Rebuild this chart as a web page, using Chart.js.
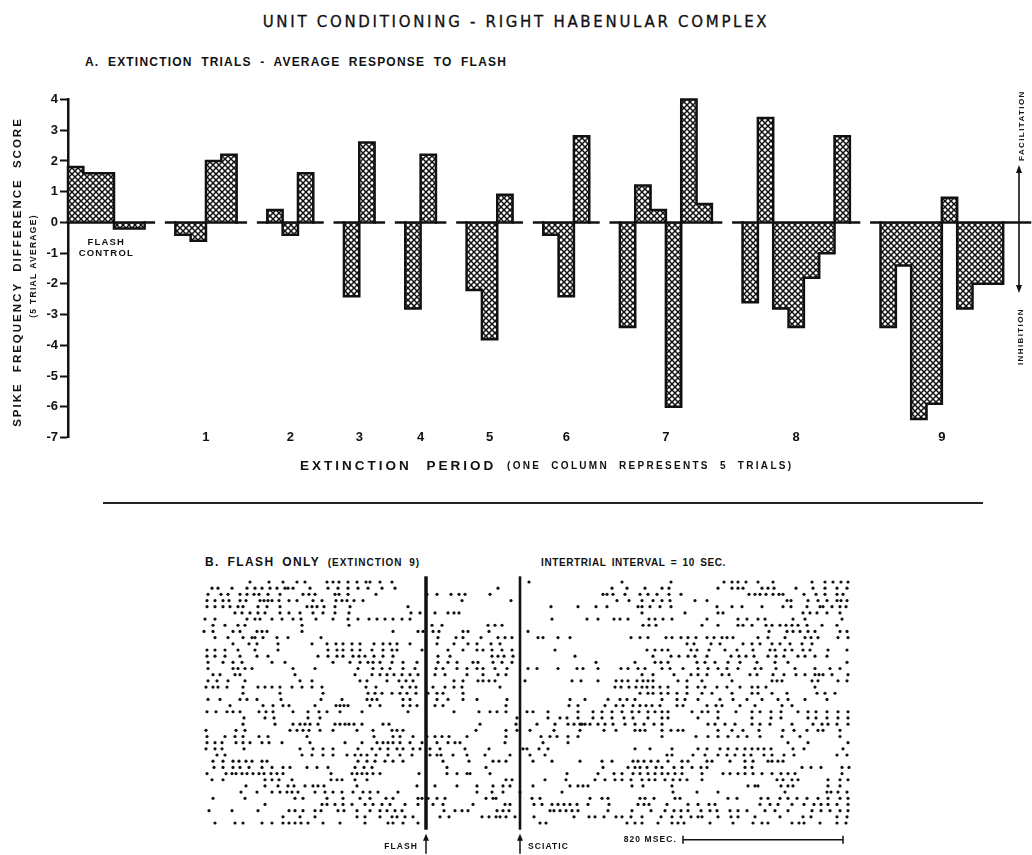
<!DOCTYPE html>
<html lang="en">
<head>
<meta charset="UTF-8">
<title>Unit conditioning - right habenular complex</title>
<script src="https://cdn.jsdelivr.net/npm/chart.js"></script>
<style>
  body { margin: 0; background: #fff; }
  .page { position: relative; width: 1032px; height: 855px; overflow: hidden; color: #111;
          font-family: "Liberation Sans", Arial, sans-serif; }
  .txt { position: absolute; white-space: nowrap; line-height: 16px; }
  canvas { position: absolute; left: 0; }
  #mainTitle { top: 14px; left: 0; width: 1032px; text-align: center; font-family: "DejaVu Sans";
               font-size: 15px; letter-spacing: 2.7px; -webkit-text-stroke: 0.3px #111; }
  #titleA { top: 54px; left: 85px; font-weight: bold; font-size: 12px; letter-spacing: 1.2px; word-spacing: 4px; }
  #titleB { top: 554px; left: 205px; font-weight: bold; font-size: 12px; letter-spacing: 1.4px; word-spacing: 3px; }
  #titleB small { font-size: 10px; letter-spacing: 1px; }
  #interval { top: 555px; left: 541px; font-weight: bold; font-size: 10px; letter-spacing: 0.6px; word-spacing: 2px; }
  #rule { position: absolute; top: 502px; left: 103px; width: 880px; height: 1.5px; background: #222; }
</style>
</head>
<body>
<div class="page">
  <div class="txt" id="mainTitle">UNIT CONDITIONING - RIGHT HABENULAR COMPLEX</div>
  <div class="txt" id="titleA">A. EXTINCTION TRIALS - AVERAGE RESPONSE TO FLASH</div>
  <canvas id="chartA" width="1032" height="500" style="top:0"></canvas>
  <div id="rule"></div>
  <div class="txt" id="titleB">B. FLASH ONLY <small>(EXTINCTION 9)</small></div>
  <div class="txt" id="interval">INTERTRIAL INTERVAL = 10 SEC.</div>
  <canvas id="chartB" width="1032" height="285" style="top:570px"></canvas>
</div>

<script>
    // ---- A: spike frequency difference score, one value per column (5 trials) ----
    var periodLabels = ['FLASH CONTROL', '1', '2', '3', '4', '5', '6', '7', '8', '9'];
    var periodScores = [
        [1.8, 1.6, 1.6, -0.2, -0.2],
        [-0.4, -0.6, 2.0, 2.2],
        [0.4, -0.4, 1.6],
        [-2.4, 2.6],
        [-2.8, 2.2],
        [-2.2, -3.8, 0.9],
        [-0.4, -2.4, 2.8],
        [-3.4, 1.2, 0.4, -6.0, 4.0, 0.6],
        [-2.6, 3.4, -2.8, -3.4, -1.8, -1.0, 2.8],
        [-3.4, -1.4, -6.4, -5.9, 0.8, -2.8, -2.0, -2.0]
    ];
    var yTicks = [-7, -6, -5, -4, -3, -2, -1, 0, 1, 2, 3, 4];

    // ---- B: raster, spike times per trial row (time bins, 160 bins = 820 msec) ----
    var FLASH_BIN = 426;
    var SCIATIC_BIN = 520;
    var SCALE_BAR_MS = 820;
    var MS_PER_BIN = 820 / 160;
    var spikeRows = [
        [250,269,283,297,305,327,333,339,348,357,366,370,380,392,529,622,671,724,732,738,746,758,773,812,825,833,841,848],
        [212,218,232,247,255,262,270,277,285,288,293,310,328,338,348,358,368,382,395,498,612,627,645,662,669,718,732,738,743,762,768,774,796,813,825,837,847],
        [208,221,228,240,247,254,259,268,280,303,309,315,335,339,348,376,427,437,451,459,465,490,603,607,613,625,640,648,657,669,681,749,755,760,766,773,779,783,804,816,825,837,843],
        [207,215,223,229,240,246,260,264,268,272,279,289,297,313,322,336,342,347,354,363,462,511,617,629,642,653,662,670,695,707,787,791,808,818,827,837,841,847],
        [207,215,223,230,238,243,258,267,280,307,312,317,324,335,350,408,551,578,596,607,638,642,650,660,671,717,732,742,762,783,791,807,820,823,832,840,846],
        [235,242,250,258,265,280,289,300,313,323,335,349,411,420,435,448,454,459,642,685,718,723,803,810,817,827,840],
        [205,215,247,255,260,272,282,293,301,316,333,348,358,369,377,385,393,402,410,552,587,598,614,620,628,649,655,663,672,707,738,747,758,765,793,805,842],
        [213,225,238,245,302,349,432,442,488,495,502,643,649,656,702,718,738,743,752,766,772,780,786,792,798,807,822,837],
        [204,213,233,240,257,262,267,302,393,418,423,433,439,463,468,489,528,769,787,793,800,808,815,840,847],
        [215,228,243,252,255,263,277,288,321,438,456,463,481,498,505,512,538,543,558,570,631,640,648,666,672,681,688,696,707,714,722,727,733,758,768,785,805,811,818,838,848],
        [233,249,257,278,312,327,336,343,352,360,374,383,390,397,410,437,454,468,477,491,500,687,694,711,720,743,752,760,772,780,790,802,812],
        [207,215,225,238,255,278,328,337,343,352,360,372,383,392,397,422,448,463,477,483,492,502,512,555,647,655,662,668,691,697,709,725,737,753,770,775,785,792,803,810,828,847],
        [207,215,225,240,257,268,318,328,337,343,353,359,365,374,383,393,438,450,492,498,504,513,575,653,671,679,688,695,707,731,739,746,754,768,776,784,798,805,815,827],
        [208,223,233,242,272,285,333,350,360,368,373,380,392,403,417,438,448,457,473,478,493,502,512,596,635,655,661,668,697,705,715,728,740,757,775,788,847],
        [208,233,238,245,252,293,315,358,373,382,390,403,415,436,443,457,467,477,483,495,507,528,537,558,577,583,598,621,628,638,645,662,670,683,698,708,718,727,738,755,761,776,795,815,830,840],
        [213,220,235,240,295,355,372,380,387,394,402,410,418,435,445,467,483,498,506,642,653,674,691,698,707,722,729,750,757,773,784,796,805,815,819,823,832,848],
        [208,217,228,245,300,312,360,367,387,399,406,413,454,463,478,483,489,495,525,572,581,598,616,622,628,637,643,648,653,678,687,702,732,772,777,782,812,818,838,847],
        [206,213,218,227,243,258,265,272,280,292,302,312,322,366,376,402,410,416,433,445,454,462,500,615,621,629,636,642,647,653,660,668,687,698,705,717,727,740,752,758,766,815],
        [243,280,323,368,375,382,392,400,407,416,428,437,443,463,640,648,653,661,668,677,687,702,712,732,752,758,772,787,817,825,835],
        [208,220,240,247,257,281,321,342,367,372,377,403,410,437,448,463,477,507,570,585,608,620,627,635,662,677,685,698,720,733,747,762,778,788,805,827],
        [230,263,273,283,289,315,336,340,344,348,370,380,403,410,417,435,443,506,569,578,605,616,623,633,640,646,652,660,677,683,707,716,722,740,755,782,792],
        [207,216,227,233,240,259,266,273,293,308,319,327,340,362,408,454,479,490,497,506,527,533,548,578,593,602,612,622,632,639,648,655,662,668,692,702,708,718,736,752,760,771,781,798,808,816,827,838,848],
        [244,265,274,308,320,517,548,560,567,578,593,602,612,624,633,648,662,668,698,718,752,771,781,808,816,827,838,848],
        [243,275,293,300,305,310,318,335,340,345,349,354,362,383,389,480,516,537,555,568,574,580,582,585,590,598,605,613,625,635,644,654,662,708,715,725,735,752,760,770,792,813,822,828,837,848],
        [206,236,245,290,297,303,309,320,333,357,373,392,397,403,476,506,517,530,554,580,604,616,635,640,645,662,671,678,683,718,732,743,759,783,794,807,818,823,840],
        [207,225,235,243,259,268,307,374,393,400,413,427,435,442,449,467,506,541,550,557,568,578,662,696,708,718,728,738,747,760,782,800,840],
        [207,215,222,236,243,250,262,269,282,310,345,362,377,383,388,393,400,410,422,437,448,455,460,505,543,568,788,808,848],
        [206,215,222,244,300,313,323,333,358,372,380,388,397,403,413,420,430,440,465,489,523,527,539,548,635,650,672,698,707,720,728,737,745,752,758,764,771,793,804,843],
        [217,225,302,312,323,333,347,355,361,367,376,388,400,412,430,437,441,453,467,485,510,530,545,667,672,693,705,718,727,735,744,751,764,772,784,794,837,847],
        [213,223,233,239,246,252,262,267,358,367,375,385,393,403,443,469,493,499,506,533,552,580,602,612,633,638,644,651,658,668,682,688,707,712,730,745,753,768,772,778,783],
        [214,223,233,240,249,262,272,283,290,307,317,328,355,364,372,447,486,603,628,635,640,647,656,662,674,682,692,701,707,745,752,802,811,821,842,849],
        [207,226,232,236,242,247,253,259,264,271,277,283,331,352,357,362,367,373,380,419,447,457,467,470,490,567,598,614,622,633,640,648,655,662,668,675,682,702,723,730,738,745,753,762,772,781,788,795,842],
        [212,223,265,272,279,292,331,337,342,355,367,506,512,545,566,595,605,615,622,631,642,649,655,665,673,680,687,702,777,783,792,798,828,840,848],
        [246,265,278,288,294,305,313,318,324,357,417,435,457,477,493,503,510,533,570,578,583,588,632,643,672,748,755,758,781,788,793,828,840],
        [241,257,272,280,287,292,298,315,325,333,342,353,363,370,378,398,477,492,503,520,562,673,697,718,785,827,831,838,847],
        [213,245,295,303,327,343,360,370,386,393,418,422,428,437,445,486,493,496,532,540,590,602,608,640,645,654,675,680,728,737,761,768,780,788,797,807,818,828,840,848],
        [265,322,327,335,343,352,365,373,382,390,405,418,433,443,473,505,510,534,542,552,558,564,570,577,588,609,638,644,649,667,688,698,709,715,760,770,778,792,804,814,821,828,837,848],
        [209,232,258,289,295,303,315,321,338,344,357,370,380,387,395,402,444,455,462,468,497,503,509,550,554,560,566,572,578,608,632,651,665,674,681,688,701,710,717,730,738,747,765,775,788,812,821,830,840,848],
        [283,300,315,357,365,380,392,397,405,413,440,449,482,489,496,500,506,515,534,574,589,595,604,616,622,631,642,661,672,681,691,698,702,718,731,738,755,780,803,811,837,847],
        [215,235,243,262,272,283,289,295,301,308,323,340,365,388,393,403,418,540,546,627,635,642,658,672,678,684,710,733,753,762,768,792,799,804,820,837,846]
    ];

    var INK = '#111';
    var GAP_COLUMNS = 2;
    var BASE_EXTRA = 0.6;

    // columns laid out one after the other, 2 empty columns between periods
    var groupStarts = [];
    var col = 0;
    periodScores.forEach(function (g) {
        groupStarts.push(col);
        col += g.length + GAP_COLUMNS;
    });
    var barPoints = [];
    periodScores.forEach(function (g, gi) {
        g.forEach(function (v, i) {
            barPoints.push({ x: groupStarts[gi] + i, y: v });
        });
    });

    function makeHatch() {
        var s = 6;
        var c = document.createElement('canvas');
        c.width = s; c.height = s;
        var g = c.getContext('2d');
        g.fillStyle = '#fff';
        g.fillRect(0, 0, s, s);
        g.strokeStyle = '#111';
        g.lineWidth = 1.5;
        g.beginPath();
        g.moveTo(-1, -1); g.lineTo(s + 1, s + 1);
        g.moveTo(s + 1, -1); g.lineTo(-1, s + 1);
        g.stroke();
        return document.getElementById('chartA').getContext('2d').createPattern(c, 'repeat');
    }

    function spacedText(ctx, text, x, y, spacing) {
        ctx.letterSpacing = spacing + 'px';
        ctx.fillText(text, x, y);
        ctx.letterSpacing = '0px';
    }

    var stepOutline = {
        id: 'stepOutline',
        afterDatasetsDraw: function (chart) {
            var ctx = chart.ctx, xs = chart.scales.x, ys = chart.scales.y;
            var y0 = ys.getPixelForValue(0);
            ctx.save();
            ctx.strokeStyle = INK;
            ctx.lineWidth = 2.5;
            ctx.lineCap = 'square';
            periodScores.forEach(function (g, gi) {
                var s = groupStarts[gi], e = s + g.length - 1;
                // baseline of the period
                var from = gi === 0 ? xs.min : s - 0.5 - BASE_EXTRA;
                var to = gi === periodScores.length - 1 ? xs.max : e + 0.5 + BASE_EXTRA;
                ctx.beginPath();
                ctx.moveTo(xs.getPixelForValue(from), y0);
                ctx.lineTo(xs.getPixelForValue(to), y0);
                ctx.stroke();
                // outline of the step profile
                ctx.beginPath();
                for (var k = 0; k <= g.length; k++) {
                    var prev = k === 0 ? 0 : g[k - 1];
                    var cur = k === g.length ? 0 : g[k];
                    var xp = xs.getPixelForValue(s + k - 0.5);
                    ctx.moveTo(xp, ys.getPixelForValue(prev));
                    ctx.lineTo(xp, ys.getPixelForValue(cur));
                    if (k < g.length) {
                        ctx.moveTo(xp, ys.getPixelForValue(cur));
                        ctx.lineTo(xs.getPixelForValue(s + k + 0.5), ys.getPixelForValue(cur));
                    }
                }
                ctx.stroke();
            });

            // period labels along the bottom
            ctx.fillStyle = INK;
            ctx.textAlign = 'center';
            ctx.textBaseline = 'middle';
            periodLabels.forEach(function (lab, gi) {
                var centre = xs.getPixelForValue(groupStarts[gi] + (periodScores[gi].length - 1) / 2);
                if (gi === 0) {
                    ctx.font = 'bold 9.5px "Liberation Sans"';
                    var parts = lab.split(' ');
                    spacedText(ctx, parts[0], centre, y0 + 20, 1.2);
                    spacedText(ctx, parts[1], centre, y0 + 31, 1.2);
                } else {
                    ctx.font = 'bold 13px "Liberation Sans"';
                    ctx.fillText(lab, centre, ys.getPixelForValue(-7));
                }
            });

            // axis titles
            ctx.save();
            ctx.translate(18, 272);
            ctx.rotate(-Math.PI / 2);
            ctx.font = 'bold 11.5px "Liberation Sans"';
            ctx.wordSpacing = '5px';
            spacedText(ctx, 'SPIKE FREQUENCY DIFFERENCE SCORE', 0, 0, 2.0);
            ctx.restore();
            ctx.save();
            ctx.translate(34, 266);
            ctx.rotate(-Math.PI / 2);
            ctx.font = 'bold 8.5px "Liberation Sans"';
            spacedText(ctx, '(5 TRIAL AVERAGE)', 0, 0, 1.3);
            ctx.restore();

            ctx.textAlign = 'left';
            ctx.font = 'bold 13.5px "Liberation Sans"';
            ctx.wordSpacing = '8px';
            spacedText(ctx, 'EXTINCTION PERIOD', 300, 466, 3);
            ctx.font = 'bold 10px "Liberation Sans"';
            ctx.wordSpacing = '5px';
            spacedText(ctx, '(ONE COLUMN REPRESENTS 5 TRIALS)', 507, 466, 2.3);
            ctx.wordSpacing = '0px';

            // facilitation / inhibition arrow at the right end
            var ax = xs.getPixelForValue(xs.max) - 11;
            var yTop = ys.getPixelForValue(1.87), yBot = ys.getPixelForValue(-2.3);
            ctx.lineWidth = 1.6;
            ctx.beginPath();
            ctx.moveTo(ax, yTop + 6);
            ctx.lineTo(ax, yBot - 6);
            ctx.stroke();
            ctx.beginPath();
            ctx.moveTo(ax, yTop); ctx.lineTo(ax - 3, yTop + 8); ctx.lineTo(ax + 3, yTop + 8); ctx.closePath();
            ctx.moveTo(ax, yBot); ctx.lineTo(ax - 3, yBot - 8); ctx.lineTo(ax + 3, yBot - 8); ctx.closePath();
            ctx.fill();
            ctx.font = 'bold 8px "Liberation Sans"';
            ctx.save();
            ctx.translate(ax + 3, yTop - 4);
            ctx.rotate(-Math.PI / 2);
            ctx.textAlign = 'left';
            spacedText(ctx, 'FACILITATION', 0, 0, 1.4);
            ctx.restore();
            ctx.save();
            ctx.translate(ax + 2, yBot + 72);
            ctx.rotate(-Math.PI / 2);
            ctx.textAlign = 'left';
            spacedText(ctx, 'INHIBITION', 0, 0, 1.4);
            ctx.restore();
            ctx.restore();
        }
    };

    new Chart(document.getElementById('chartA'), {
        type: 'bar',
        data: {
            datasets: [{
                data: barPoints,
                backgroundColor: makeHatch(),
                borderWidth: 0,
                barPercentage: 1,
                categoryPercentage: 1
            }]
        },
        options: {
            responsive: false,
            animation: false,
            layout: { padding: { top: 99.5, bottom: 62.5, left: 0, right: 2 } },
            plugins: { legend: { display: false }, tooltip: { enabled: false } },
            scales: {
                x: { type: 'linear', min: -0.5, max: 62.25, offset: false, display: false },
                y: {
                    min: yTicks[0],
                    max: yTicks[yTicks.length - 1],
                    afterBuildTicks: function (s) { s.ticks = yTicks.map(function (v) { return { value: v }; }); },
                    afterFit: function (s) { s.width = 68; },
                    ticks: { color: INK, padding: 2, font: { family: 'Liberation Sans', weight: 'bold', size: 13 } },
                    grid: { drawOnChartArea: false, tickLength: 8, tickWidth: 2, tickColor: INK },
                    border: { color: INK, width: 2.5 }
                }
            }
        },
        plugins: [stepOutline]
    });

    // ---- B: raster ----
    var rasterPoints = [];
    spikeRows.forEach(function (row, r) {
        row.forEach(function (t) { rasterPoints.push({ x: t, y: r }); });
    });

    var rasterMarks = {
        id: 'rasterMarks',
        afterDatasetsDraw: function (chart) {
            var ctx = chart.ctx, xs = chart.scales.x, a = chart.chartArea;
            ctx.save();
            ctx.strokeStyle = INK;
            ctx.fillStyle = INK;
            function stim(bin, width, label, side) {
                var x = xs.getPixelForValue(bin);
                ctx.lineWidth = width;
                ctx.beginPath();
                ctx.moveTo(x, a.top - 2);
                ctx.lineTo(x, a.bottom + 3);
                ctx.stroke();
                // up arrow underneath
                ctx.lineWidth = 1.5;
                ctx.beginPath();
                ctx.moveTo(x, a.bottom + 12);
                ctx.lineTo(x, a.bottom + 27);
                ctx.stroke();
                ctx.beginPath();
                ctx.moveTo(x, a.bottom + 7);
                ctx.lineTo(x - 3, a.bottom + 14);
                ctx.lineTo(x + 3, a.bottom + 14);
                ctx.closePath();
                ctx.fill();
                ctx.font = 'bold 8.5px "Liberation Sans"';
                ctx.textBaseline = 'middle';
                ctx.textAlign = side < 0 ? 'right' : 'left';
                spacedText(ctx, label, x + side * 8, a.bottom + 20, 1.1);
            }
            stim(FLASH_BIN, 3.5, 'FLASH', -1);
            stim(SCIATIC_BIN, 2.6, 'SCIATIC', 1);

            // 820 msec scale bar
            var barStart = 683;
            var x1 = xs.getPixelForValue(barStart);
            var x2 = xs.getPixelForValue(barStart + SCALE_BAR_MS / MS_PER_BIN);
            var yb = a.bottom + 13;
            ctx.lineWidth = 1.5;
            ctx.beginPath();
            ctx.moveTo(x1, yb); ctx.lineTo(x2, yb);
            ctx.moveTo(x1, yb - 4); ctx.lineTo(x1, yb + 4);
            ctx.moveTo(x2, yb - 4); ctx.lineTo(x2, yb + 4);
            ctx.stroke();
            ctx.font = 'bold 8.5px "Liberation Sans"';
            ctx.textAlign = 'right';
            ctx.textBaseline = 'middle';
            spacedText(ctx, SCALE_BAR_MS + ' MSEC.', x1 - 6, yb, 1.1);
            ctx.restore();
        }
    };

    new Chart(document.getElementById('chartB'), {
        type: 'scatter',
        data: {
            datasets: [{
                data: rasterPoints,
                pointRadius: 1.6,
                pointBackgroundColor: INK,
                pointBorderWidth: 0,
                clip: false
            }]
        },
        options: {
            responsive: false,
            animation: false,
            layout: { padding: { top: 8.3, bottom: 28.3, left: 202, right: 180 } },
            plugins: { legend: { display: false }, tooltip: { enabled: false } },
            scales: {
                x: { type: 'linear', min: 202, max: 852, display: false },
                y: { min: -0.6, max: spikeRows.length - 0.4, reverse: true, display: false }
            }
        },
        plugins: [rasterMarks]
    });
</script>
</body>
</html>
